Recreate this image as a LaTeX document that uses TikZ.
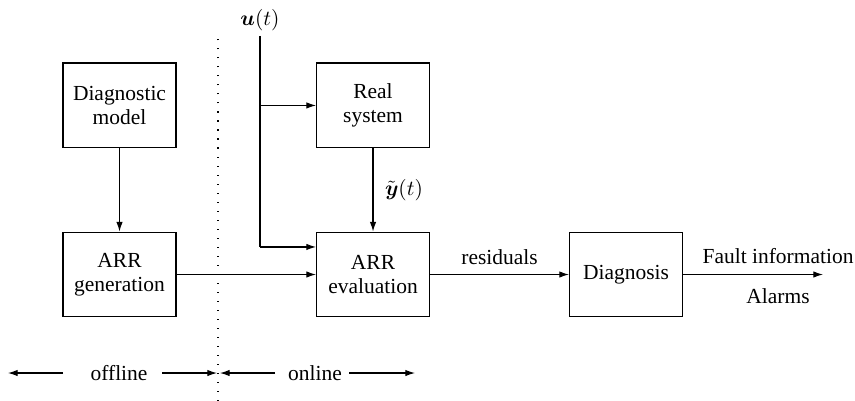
\documentclass[tikz,border=0pt]{standalone}
\usepackage{amsmath}
\usepackage{fontspec}
\setmainfont{Liberation Serif}
\usetikzlibrary{arrows.meta}
\begin{document}
\begin{tikzpicture}[>={Latex[length=4.5pt,width=3pt]}, line width=0.5pt,
  every node/.style={font=\fontsize{10}{11}\selectfont},
  blockbox/.style={draw, minimum width=1.85cm, minimum height=1.39cm, align=center}]
  \useasboundingbox (0,0) rectangle (14,6.566);
  % blocks
  \node[blockbox] (model) at (1.957,4.839) {Diagnostic\\model};
  \node[blockbox] (gen)   at (1.957,2.071) {ARR\\generation};
  \node[blockbox] (sys)   at (6.108,4.839) {Real\\system};
  \node[blockbox] (eval)  at (6.108,2.071) {ARR\\evaluation};
  \node[blockbox] (diag)  at (10.25,2.071) {Diagnosis};
  % offline / online separation
  \draw[dash pattern=on 0.5pt off 3.7pt] (3.570,0) -- (3.570,5.993);
  % input u(t)
  \coordinate (utop) at (4.257,5.977);
  \node[above, inner sep=2pt] (ulab) at (utop) {$\boldsymbol{u}(t)$};
  \coordinate (ubr) at (4.257,4.839);
  \coordinate (ubot) at (4.257,2.522);
  \draw (utop) -- (ubot);
  \draw[->] (ubr) -- (sys.west);
  \draw[->] (ubot) -- (ubot -| eval.west);
  % signal flow
  \draw[->] (model) -- (gen);
  \draw[->] (gen) -- (eval);
  \draw[->] (sys) -- node[right, xshift=2pt] (ylab) {$\tilde{\boldsymbol{y}}(t)$} (eval);
  \draw[->] (eval) -- node[above, yshift=1pt] (res) {residuals} (diag);
  \coordinate (out) at (13.476,2.071);
  \draw[->] (diag) -- (out);
  \node (fault) at (12.74,2.374) {Fault information};
  \node (alarm) at (12.74,1.719) {Alarms};
  % offline / online arrows
  \node (offl) at (1.949,0.458) {offline};
  \node (onl) at (5.158,0.458) {online};
  \coordinate (offA) at (1.032,0.458);
  \coordinate (offB) at (0.131,0.458);
  \coordinate (offC) at (2.653,0.458);
  \coordinate (offD) at (3.553,0.458);
  \coordinate (onA) at (4.503,0.458);
  \coordinate (onB) at (3.602,0.458);
  \coordinate (onC) at (5.715,0.458);
  \coordinate (onD) at (6.795,0.458);
  \draw[->] (offA) -- (offB);
  \draw[->] (offC) -- (offD);
  \draw[->] (onA) -- (onB);
  \draw[->] (onC) -- (onD);
\end{tikzpicture}
\end{document}
